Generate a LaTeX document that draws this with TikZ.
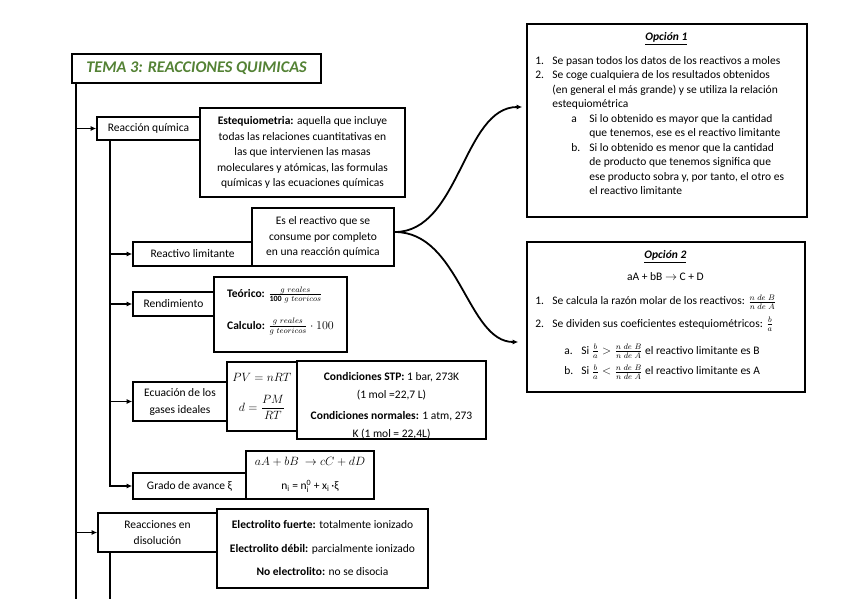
\documentclass[tikz,border=0pt]{standalone}
\usepackage{amsmath}
\usepackage{fontspec}
\setmainfont{Carlito}
\usetikzlibrary{arrows.meta,calc}
\definecolor{titlegreen}{RGB}{84,130,53}
\newcommand{\myfont}{\fontsize{11.5}{15.5}\selectfont\lineskiplimit=-100pt\lineskip=0pt\relax}
\newcommand{\opfont}{\fontsize{11.5}{14.5}\selectfont\lineskiplimit=-100pt\lineskip=0pt\relax}
\newcommand{\condfont}{\fontsize{11.5}{18}\selectfont\lineskiplimit=-100pt\lineskip=0pt\relax}
\begin{document}
\begin{tikzpicture}[x=1pt,y=-1pt,
  box/.style={draw, line width=1.6pt, inner sep=0pt, align=center, font=\myfont},
  conn/.style={line width=1.8pt},
  arr/.style={conn, -{Latex[length=5.5pt,width=5pt]}},
  optext/.style={anchor=north west, inner sep=0pt, align=left, font=\opfont}]
\useasboundingbox (0,0) rectangle (848,599);

% title
\node[box, line width=1.8pt, minimum width=249pt, minimum height=29pt, font=\fontsize{16.3}{18}\selectfont\bfseries\itshape, text=titlegreen] (title) at (196.5,68.5) {TEMA 3: REACCIONES QUIMICAS};

% left boxes
\node[box, minimum width=103pt, minimum height=23pt] (rq) at (148.5,128.5) {Reacción química};
\node[box, minimum width=205pt, minimum height=89pt] (est) at (302.5,152.5) {\textbf{Estequiometria:} aquella que incluye\\ todas las relaciones cuantitativas en\\ las que intervienen las masas\\ moleculares y atómicas, las formulas\\ químicas y las ecuaciones químicas};

\node[box, minimum width=119pt, minimum height=24pt] (rl) at (192.5,254) {Reactivo limitante};
\node[box, minimum width=142pt, minimum height=58pt] (esr) at (323,237) {Es el reactivo que se\\ consume por completo\\ en una reacción química};

\node[box, minimum width=81pt, minimum height=24pt] (ren) at (173.5,304) {Rendimiento};
\node[box, minimum width=133pt, minimum height=75pt, align=left] (teo) at (280.5,314.5) {\textbf{Teórico:} $\frac{g\ reales}{\mathbf{100}\ g\ teoricos}$\\[16pt] \textbf{Calculo:} $\frac{g\ reales}{g\ teoricos}\cdot 100$\rule[-13pt]{0pt}{0pt}};

\node[box, minimum width=94pt, minimum height=39pt] (ecu) at (180,401.5) {Ecuación de los\\[1.5pt] gases ideales};
\node[box, minimum width=70pt, minimum height=69pt] (pv) at (262,396.5) {$PV = nRT$\\[15pt] $d = \dfrac{PM}{RT}$};
\node[box, minimum width=189pt, minimum height=78pt, font=\condfont] (cond) at (391.5,400) {\rule{0pt}{19pt}\textbf{Condiciones STP:} 1 bar, 273K\\ (1 mol =22,7 L)\\[3pt] \textbf{Condiciones normales:} 1 atm, 273\\ K (1 mol = 22,4L)};

\node[box, minimum width=113pt, minimum height=26pt] (gra) at (189.5,486) {Grado de avance ξ};
\node[box, minimum width=128pt, minimum height=48pt] (aab) at (310,475) {$aA + bB\ \rightarrow cC + dD$\\[8.5pt] n$_\mathrm{i}$ = n$_\mathrm{i}^\mathrm{0}$ + x$_\mathrm{i}$\,·ξ};

\node[box, minimum width=119pt, minimum height=39pt] (dis) at (157.5,532.5) {Reacciones en\\ disolución};
\node[box, minimum width=211pt, minimum height=79pt] (ele) at (322.5,548.5) {\textbf{Electrolito fuerte:} totalmente ionizado\\[8pt] \textbf{Electrolito débil:} parcialmente ionizado\\[8pt] \textbf{No electrolito:} no se disocia};

% option boxes
\node[box, minimum width=280pt, minimum height=193pt] (op1) at (667,120.5) {};
\node[box, minimum width=278pt, minimum height=150pt] (op2) at (666,317) {};

\node[optext] (op1t) at ($(op1.north west)+(9,6)$) {%
\makebox[262pt]{\rule{0pt}{11pt}\textbf{\textit{\underline{Opción 1}}}}\\[9.5pt]
\makebox[17pt][l]{1.}Se pasan todos los datos de los reactivos a moles\\
\makebox[17pt][l]{2.}Se coge cualquiera de los resultados obtenidos\\
\hspace*{17pt}(en general el más grande) y se utiliza la relación\\
\hspace*{17pt}estequiométrica\\
\hspace*{36pt}\makebox[18pt][l]{a}Si lo obtenido es mayor que la cantidad\\
\hspace*{54pt}que tenemos, ese es el reactivo limitante\\
\hspace*{36pt}\makebox[18pt][l]{b.}Si lo obtenido es menor que la cantidad\\
\hspace*{54pt}de producto que tenemos significa que\\
\hspace*{54pt}ese producto sobra y, por tanto, el otro es\\
\hspace*{54pt}el reactivo limitante};

\node[optext] (op2t) at ($(op2.north west)+(9,6)$) {%
\makebox[260pt]{\rule{0pt}{11pt}\textbf{\textit{\underline{Opción 2}}}}\\[7.5pt]
\makebox[260pt]{aA + bB $\rightarrow$ C + D}\\[10pt]
\makebox[17pt][l]{1.}Se calcula la razón molar de los reactivos: $\frac{n\ de\ B}{n\ de\ A}$\\[8pt]
\makebox[17pt][l]{2.}Se dividen sus coeficientes estequiométricos: $\frac{b}{a}$\\[12.5pt]
\hspace*{29pt}\makebox[17pt][l]{a.}Si $\frac{b}{a} > \frac{n\ de\ B}{n\ de\ A}$ el reactivo limitante es B\\[6pt]
\hspace*{29pt}\makebox[17pt][l]{b.}Si $\frac{b}{a} < \frac{n\ de\ B}{n\ de\ A}$ el reactivo limitante es A};

% connectors
\coordinate (v1a) at ($(title.south west)+(5,0)$);
\coordinate (v1b) at ($(v1a)+(0,516)$);
\draw[conn] (v1a) -- (v1b);
\draw[arr] (rq.west -| v1a) -- (rq.west);
\draw[arr] (dis.west -| v1a) -- (dis.west);

\coordinate (v2a) at ($(rq.south west)+(14,0)$);
\draw[arr] (v2a) |- (gra.west);
\draw[arr] (rl.west -| v2a) -- (rl.west);
\draw[arr] (ren.west -| v2a) -- (ren.west);
\draw[arr] (ecu.west -| v2a) -- (ecu.west);

\coordinate (v3a) at ($(dis.south west)+(13,0)$);
\draw[conn] (v3a) -- (v3a |- v1b);

\draw[arr, shorten >=4pt] ([yshift=5pt]esr.east) .. controls +(65,0) and +(-63,0) .. ([yshift=13.5pt]op1.west);
\draw[arr, shorten >=8pt] ([yshift=5pt]esr.east) .. controls +(65,0) and +(-59,0) .. ([yshift=-25pt]op2.west);
\end{tikzpicture}
\end{document}
